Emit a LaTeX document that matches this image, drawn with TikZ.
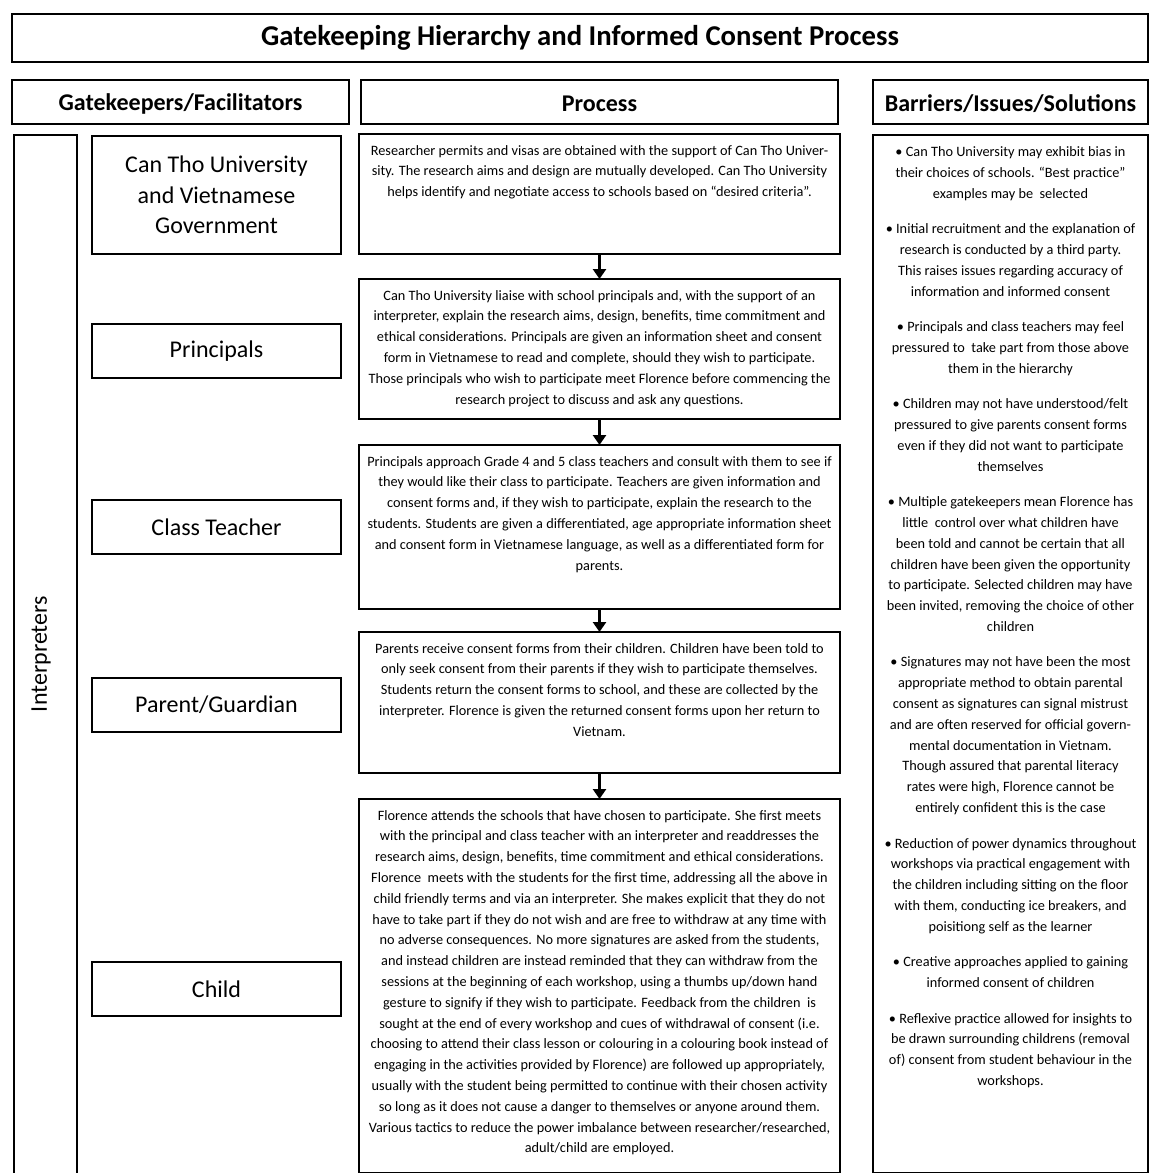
\documentclass[tikz,border=0pt]{standalone}
\usepackage{fontspec}
\setmainfont{Carlito}
\usetikzlibrary{arrows.meta}
\tikzset{
  box/.style={draw=black, line width=1.7pt, anchor=north west, inner sep=0pt, outer sep=0pt},
  ttext/.style={font=\fontsize{28.7}{32}\selectfont\bfseries, inner sep=0pt},
  htext/.style={font=\fontsize{24}{28}\selectfont\bfseries, inner sep=0pt, yshift=-1.5pt},
  gtext/.style={align=center, inner sep=0pt, font=\fontsize{24}{30.5}\selectfont},
  ptext/.style={anchor=north, align=center, inner sep=0pt, font=\fontsize{14.3}{20.8}\selectfont},
  btext/.style={anchor=north, align=center, inner sep=0pt, font=\fontsize{14.3}{20.8}\selectfont},
  arr/.style={line width=3.2pt, -{Triangle[width=13pt,length=10pt]}}
}
\begin{document}
\begin{tikzpicture}[x=1pt,y=-1pt]
\useasboundingbox (0,0) rectangle (1151,1173);
% title
\node[box, minimum width=1136pt, minimum height=48pt] (title) at (12,14) {};
\node[ttext] (titlet) at (title.center) {Gatekeeping Hierarchy and Informed Consent Process};
% headers
\node[box, minimum width=337pt, minimum height=44pt] (h1) at (12,80) {};
\node[htext] (h1t) at (h1.center) {Gatekeepers/Facilitators};
\node[box, minimum width=477pt, minimum height=44pt] (h2) at (361,80) {};
\node[htext] (h2t) at (h2.center) {Process};
\node[box, minimum width=275pt, minimum height=44pt] (h3) at (873,80) {};
\node[htext] (h3t) at (h3.center) {Barriers/Issues/Solutions};
% interpreters
\node[box, minimum width=63pt, minimum height=1060pt] (interp) at (14,135) {};
\node[gtext, rotate=90] (interpt) at (41,654) {Interpreters};
% gatekeepers
\node[box, minimum width=249pt, minimum height=118pt] (g1) at (92,136) {};
\node[gtext] (g1t) at (g1.center) {Can Tho University\\and Vietnamese\\Government};
\node[box, minimum width=249pt, minimum height=54pt] (g2) at (92,324) {};
\node[gtext] (g2t) at (g2.center) {Principals};
\node[box, minimum width=249pt, minimum height=54pt] (g3) at (92,500) {};
\node[gtext] (g3t) at (g3.center) {Class Teacher};
\node[box, minimum width=249pt, minimum height=54pt] (g4) at (92,678) {};
\node[gtext] (g4t) at (g4.center) {Parent/Guardian};
\node[box, minimum width=249pt, minimum height=54pt] (g5) at (92,962) {};
\node[gtext] (g5t) at (g5.center) {Child};
% process boxes
\node[box, minimum width=481pt, minimum height=120pt] (p1) at (359,134) {};
\node[box, minimum width=481pt, minimum height=140pt] (p2) at (359,279) {};
\node[box, minimum width=481pt, minimum height=164pt] (p3) at (359,445) {};
\node[box, minimum width=481pt, minimum height=141pt] (p4) at (359,632) {};
\node[box, minimum width=481pt, minimum height=373.5pt] (p5) at (359,799) {};
\node[ptext] (p1t) at (599.5,145) {Researcher permits and visas are obtained with the support of Can Tho Univer-\\sity. The research aims and design are mutually developed. Can Tho University\\helps identify and negotiate access to schools based on “desired criteria”.};
\node[ptext] (p2t) at (599.5,290) {Can Tho University liaise with school principals and, with the support of an\\interpreter, explain the research aims, design, benefits, time commitment and\\ethical considerations. Principals are given an information sheet and consent\\form in Vietnamese to read and complete, should they wish to participate.\\Those principals who wish to participate meet Florence before commencing the\\research project to discuss and ask any questions.};
\node[ptext] (p3t) at (599.5,456) {Principals approach Grade 4 and 5 class teachers and consult with them to see if\\they would like their class to participate. Teachers are given information and\\consent forms and, if they wish to participate, explain the research to the\\students. Students are given a differentiated, age appropriate information sheet\\and consent form in Vietnamese language, as well as a differentiated form for\\parents.};
\node[ptext] (p4t) at (599.5,643) {Parents receive consent forms from their children. Children have been told to\\only seek consent from their parents if they wish to participate themselves.\\Students return the consent forms to school, and these are collected by the\\interpreter. Florence is given the returned consent forms upon her return to\\Vietnam.};
\node[ptext] (p5t) at (599.5,810) {Florence attends the schools that have chosen to participate. She first meets\\with the principal and class teacher with an interpreter and readdresses the\\research aims, design, benefits, time commitment and ethical considerations.\\Florence\ \ meets with the students for the first time, addressing all the above in\\child friendly terms and via an interpreter. She makes explicit that they do not\\have to take part if they do not wish and are free to withdraw at any time with\\no adverse consequences. No more signatures are asked from the students,\\and instead children are instead reminded that they can withdraw from the\\sessions at the beginning of each workshop, using a thumbs up/down hand\\gesture to signify if they wish to participate. Feedback from the children\ \ is\\sought at the end of every workshop and cues of withdrawal of consent (i.e.\\choosing to attend their class lesson or colouring in a colouring book instead of\\engaging in the activities provided by Florence) are followed up appropriately,\\usually with the student being permitted to continue with their chosen activity\\so long as it does not cause a danger to themselves or anyone around them.\\Various tactics to reduce the power imbalance between researcher/researched,\\adult/child are employed.};
% arrows
\draw[arr] (p1.south) -- (p2.north);
\draw[arr] (p2.south) -- (p3.north);
\draw[arr] (p3.south) -- (p4.north);
\draw[arr] (p4.south) -- (p5.north);
% barriers
\node[box, minimum width=275pt, minimum height=1037.5pt] (bar) at (873,135) {};
\node[btext] (bart) at (1010.5,146.5) {• Can Tho University may exhibit bias in\\their choices of schools. “Best practice”\\examples may be\ \ selected\\[14.7pt]
• Initial recruitment and the explanation of\\research is conducted by a third party.\\This raises issues regarding accuracy of\\information and informed consent\\[14.7pt]
• Principals and class teachers may feel\\pressured to\ \ take part from those above\\them in the hierarchy\\[14.7pt]
• Children may not have understood/felt\\pressured to give parents consent forms\\even if they did not want to participate\\themselves\\[14.7pt]
• Multiple gatekeepers mean Florence has\\little\ \ control over what children have\\been told and cannot be certain that all\\children have been given the opportunity\\to participate. Selected children may have\\been invited, removing the choice of other\\children\\[14.7pt]
• Signatures may not have been the most\\appropriate method to obtain parental\\consent as signatures can signal mistrust\\and are often reserved for official govern-\\mental documentation in Vietnam.\\Though assured that parental literacy\\rates were high, Florence cannot be\\entirely confident this is the case\\[14.7pt]
• Reduction of power dynamics throughout\\workshops via practical engagement with\\the children including sitting on the floor\\with them, conducting ice breakers, and\\poisitiong self as the learner\\[14.7pt]
• Creative approaches applied to gaining\\informed consent of children\\[14.7pt]
• Reflexive practice allowed for insights to\\be drawn surrounding childrens (removal\\of) consent from student behaviour in the\\workshops.};
\end{tikzpicture}
\end{document}
